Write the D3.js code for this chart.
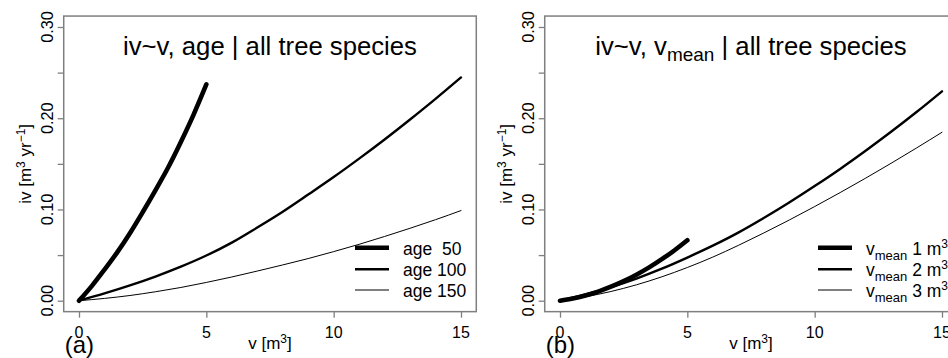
<!DOCTYPE html>
<html><head><meta charset="utf-8">
<script src="https://cdn.jsdelivr.net/npm/d3@7"></script>
<style>
body{margin:0;background:#fff;}
svg{display:block;font-family:"Liberation Sans",Arial,Helvetica,sans-serif;}
text{white-space:pre;}
</style></head><body><svg id="c" width="948" height="358"></svg>
<script>
// ---- data ----
const xTicks = [0, 5, 10, 15];
const yTicks = [0, 0.05, 0.10, 0.15, 0.20, 0.25, 0.30];
const yLabelTicks = [0, 0.10, 0.20, 0.30];
const vShort = [0, 0.5, 1, 1.5, 2, 2.5, 3, 3.5, 4, 4.5, 5];
const vLong = [0, 1, 2, 3, 4, 5, 6, 7, 8, 9, 10, 11, 12, 13, 14, 15];
const ivAge50 = [0, 0.016, 0.034, 0.053, 0.074, 0.097, 0.121, 0.146, 0.174, 0.204, 0.237];
const ivAge100 = [0, 0.0080, 0.0168, 0.0265, 0.0373, 0.0495, 0.0637, 0.0802, 0.0975, 0.1163, 0.1355, 0.1557, 0.1767, 0.1986, 0.2212, 0.2447];
const ivAge150 = [0, 0.0025, 0.0057, 0.0098, 0.0145, 0.0200, 0.0260, 0.0325, 0.0392, 0.0462, 0.0538, 0.0618, 0.0704, 0.0794, 0.0888, 0.0988];
const ivVmean1 = [0, 0.0024, 0.0058, 0.0100, 0.0153, 0.0214, 0.0285, 0.0365, 0.0455, 0.0553, 0.0662];
const ivVmean2 = [0, 0.0068, 0.0149, 0.0243, 0.0351, 0.0473, 0.0603, 0.0746, 0.0906, 0.1076, 0.1256, 0.1444, 0.1643, 0.1851, 0.2068, 0.2295];
const ivVmean3 = [0, 0.0043, 0.0101, 0.0174, 0.0262, 0.0364, 0.0478, 0.0606, 0.0742, 0.0884, 0.1032, 0.1185, 0.1343, 0.1506, 0.1674, 0.1846];
const ageLabels = ["age  50", "age 100", "age 150"];
const vmeanLabels = ["1", "2", "3"];
const panelLetters = ["(a)", "(b)"];

// ---- styles ----
const lineWidths = [4.6, 2.4, 1.0];
const boxColor = "#7f7f7f";
const svg = d3.select("#c");

function panel(offset, series, titleFn, legendLabelFn, letter) {
  const x = d3.scaleLinear().domain([0, 15]).range([79 + offset, 461 + offset]);
  const y = d3.scaleLinear().domain([0, 0.30]).range([300.7, 27]);
  const g = svg.append("g");
  const x0 = x(-0.6), x1 = x(15.6), y0 = y(-0.012), y1 = y(0.312);

  // curves
  const line = d3.line().x(d => x(d[0])).y(d => y(d[1])).curve(d3.curveMonotoneX);
  series.forEach((s, i) => {
    g.append("path").attr("d", line(d3.zip(s.v, s.iv)))
      .attr("fill", "none").attr("stroke", "#000")
      .attr("stroke-width", lineWidths[i]).attr("stroke-linecap", "round").attr("stroke-linejoin", "round");
  });

  // box
  g.append("rect").attr("x", x0).attr("y", y1).attr("width", x1 - x0).attr("height", y0 - y1)
    .attr("fill", "none").attr("stroke", boxColor).attr("stroke-width", 1.5);

  // axes
  const ay = g.append("g").attr("transform", `translate(${x0},0)`)
    .call(d3.axisLeft(y).tickValues(yTicks).tickSize(6).tickFormat(""));
  const ax = g.append("g").attr("transform", `translate(0,${y0})`)
    .call(d3.axisBottom(x).tickValues(xTicks).tickSize(6).tickFormat(""));
  [ay, ax].forEach(a => {
    a.select(".domain").remove();
    a.selectAll(".tick line").attr("stroke", boxColor).attr("stroke-width", 1.3);
  });

  // tick labels
  g.selectAll(".ylab").data(yLabelTicks).enter().append("text")
    .attr("transform", d => `translate(${x0 - 11},${y(d)}) rotate(-90)`)
    .attr("text-anchor", "middle").attr("font-size", 16.3).text(d => d3.format(".2f")(d));
  g.selectAll(".xlab").data(xTicks).enter().append("text")
    .attr("x", d => x(d)).attr("y", 338).attr("text-anchor", "middle")
    .attr("font-size", 16).text(d => d);

  // axis titles
  const yt = g.append("text").attr("transform", `translate(${x0 - 33},${(y0 + y1) / 2}) rotate(-90)`)
    .attr("text-anchor", "middle").attr("font-size", 17);
  yt.append("tspan").text("iv [m");
  yt.append("tspan").attr("dy", -6).attr("font-size", 12).text("3");
  yt.append("tspan").attr("dy", 6).text(" yr");
  yt.append("tspan").attr("dy", -6).attr("font-size", 12).text("\u22121");
  yt.append("tspan").attr("dy", 6).text("]");

  const xt = g.append("text").attr("x", (x0 + x1) / 2).attr("y", 349)
    .attr("text-anchor", "middle").attr("font-size", 17);
  xt.append("tspan").text("v [m");
  xt.append("tspan").attr("dy", -6).attr("font-size", 12).text("3");
  xt.append("tspan").attr("dy", 6).text("]");

  g.append("text").attr("x", x0 + 1).attr("y", 353).attr("font-size", 24).text(letter);

  // title
  const tt = g.append("text").attr("x", (x0 + x1) / 2).attr("y", 55)
    .attr("text-anchor", "middle").attr("font-size", 25.7);
  titleFn(tt);

  // legend
  const rows = [247.7, 269.3, 290];
  const lx = 355 + offset + (offset ? -18 : 0);
  rows.forEach((ry, i) => {
    g.append("line").attr("x1", lx).attr("x2", lx + 34).attr("y1", ry).attr("y2", ry)
      .attr("stroke", "#000").attr("stroke-width", lineWidths[i]);
    const t = g.append("text").attr("x", lx + 48).attr("y", ry + 7).attr("font-size", 17.5);
    legendLabelFn(t, i);
  });
}

panel(0,
  [{v: vShort, iv: ivAge50}, {v: vLong, iv: ivAge100}, {v: vLong, iv: ivAge150}],
  t => t.text("iv~v, age | all tree species"),
  (t, i) => t.text(ageLabels[i]),
  panelLetters[0]);

panel(481,
  [{v: vShort, iv: ivVmean1}, {v: vLong, iv: ivVmean2}, {v: vLong, iv: ivVmean3}],
  t => {
    t.append("tspan").text("iv~v, v");
    t.append("tspan").attr("dy", 6).attr("font-size", 19).text("mean");
    t.append("tspan").attr("dy", -6).text(" | all tree species");
  },
  (t, i) => {
    t.append("tspan").text("v");
    t.append("tspan").attr("dy", 5).attr("font-size", 13).text("mean");
    t.append("tspan").attr("dy", -5).text(" " + vmeanLabels[i] + " m");
    t.append("tspan").attr("dy", -7).attr("font-size", 12).text("3");
  },
  panelLetters[1]);
</script></body></html>
